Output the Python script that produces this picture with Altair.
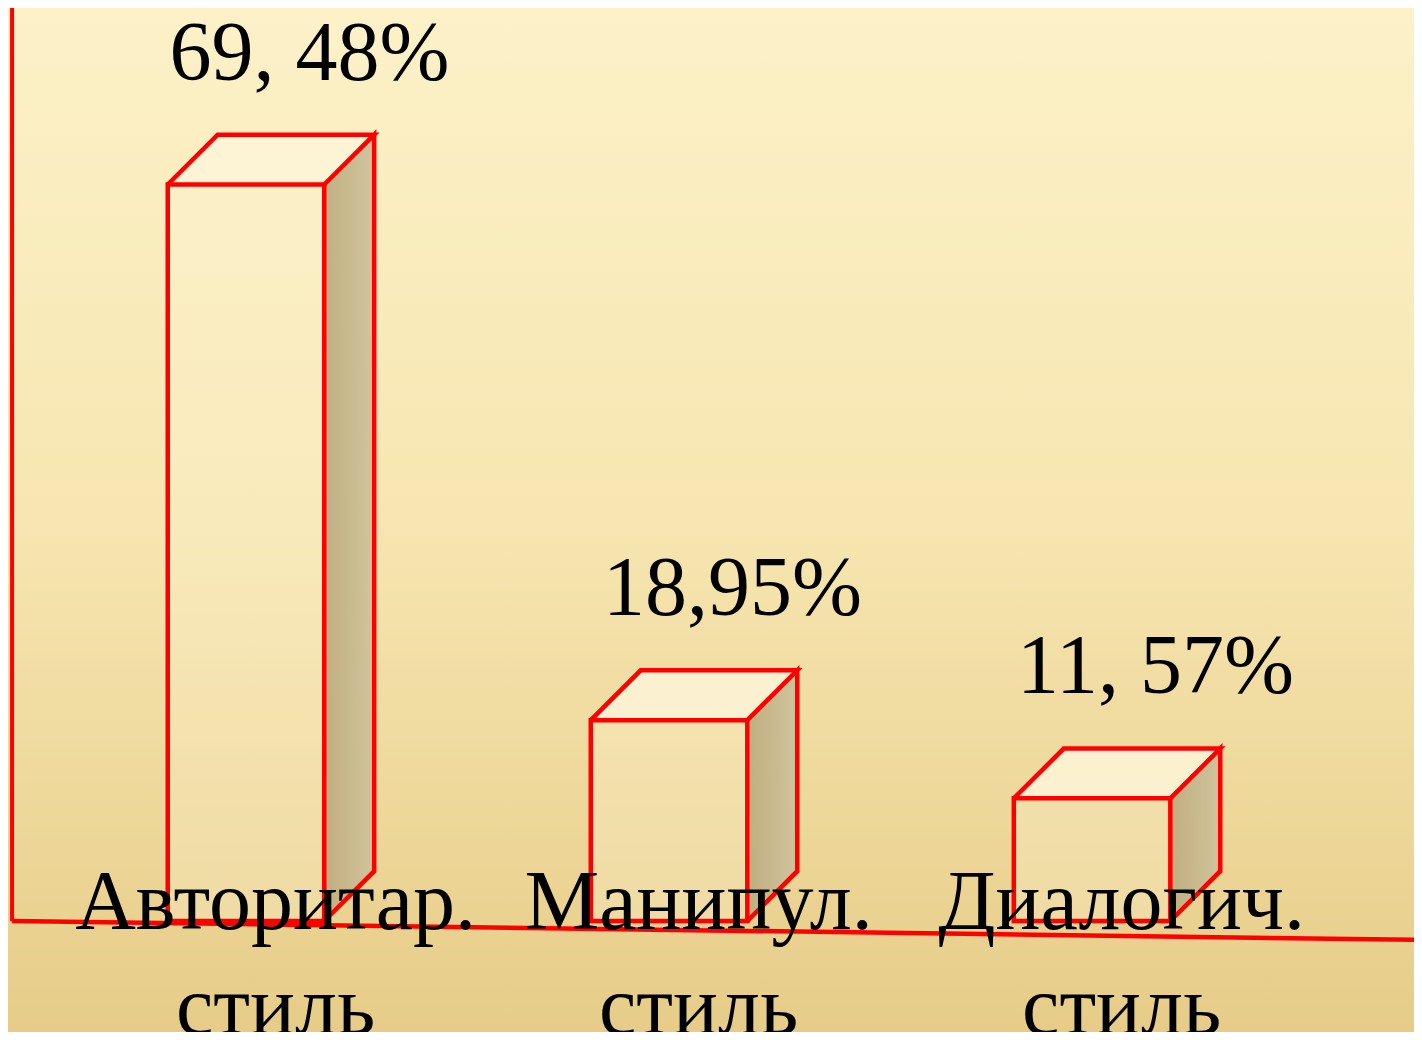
import altair as alt
import pandas as pd

# ---- data ----
categories = ["Авторитар.\nстиль", "Манипул.\nстиль", "Диалогич.\nстиль"]
values = [69.48, 18.95, 11.57]
value_labels = ["69, 48%", "18,95%", "11, 57%"]

# ---- layout / style constants ----
W, H = 1406, 1024
X_DOMAIN = [-0.0626, 3.261]
Y_DOMAIN = [-10.47, 86.13]
HALF = 0.185      # half bar width (x units)
DX = 0.118        # depth offset in x units
DY = 4.7          # depth offset in y units
AXIS_X = -0.053
RED = "#FF0000"
FONT = "Liberation Serif"

xs = alt.Scale(domain=X_DOMAIN, nice=False, zero=False)
ys = alt.Scale(domain=Y_DOMAIN, nice=False, zero=False)

front_rows, top_rows, side_rows, out_rows, lab_rows = [], [], [], [], []
for i, (cat, v, lab) in enumerate(zip(categories, values, value_labels)):
    c = i + 0.5
    x0, x1 = c - HALF, c + HALF
    front_rows.append({"bar": i, "x0": x0, "x1": x1, "y0": 0.0, "v": v})
    top_rows += [
        {"bar": i, "x": x0, "y": v, "y2": v},
        {"bar": i, "x": x0 + DX, "y": v, "y2": v + DY},
        {"bar": i, "x": x1, "y": v, "y2": v + DY},
        {"bar": i, "x": x1 + DX, "y": v + DY, "y2": v + DY},
    ]
    side_rows += [
        {"bar": i, "x": x1, "y": 0.0, "y2": v},
        {"bar": i, "x": x1 + DX, "y": DY, "y2": v + DY},
    ]
    pts = [(x0, v), (x0 + DX, v + DY), (x1 + DX, v + DY), (x1, v),
           (x1 + DX, v + DY), (x1 + DX, DY), (x1, 0.0)]
    for k, (px, py) in enumerate(pts):
        out_rows.append({"bar": i, "k": k, "x": px, "y": py})
    lab_rows.append({"bar": i, "cat": cat, "lab": lab,
                     "lx": c + 0.15, "ly": v + DY + 5.2,
                     "cx": c + 0.07, "cy": 0.0})

front = pd.DataFrame(front_rows)
top = pd.DataFrame(top_rows)
side = pd.DataFrame(side_rows)
outline = pd.DataFrame(out_rows)
labels = pd.DataFrame(lab_rows)

bg = alt.Chart(pd.DataFrame({"a": [0]})).mark_rect(
    color=alt.LinearGradient(
        gradient="linear", x1=0, x2=0, y1=0, y2=1,
        stops=[alt.GradientStop(offset=0, color="#FCF1C8"),
               alt.GradientStop(offset=0.5, color="#F7E6B1"),
               alt.GradientStop(offset=1, color="#E6CC88")])
).encode(x=alt.value(0), x2=alt.value(W), y=alt.value(0), y2=alt.value(H))

side_l = alt.Chart(side).mark_area(
    color=alt.LinearGradient(
        gradient="linear", x1=0, x2=1, y1=0, y2=0,
        stops=[alt.GradientStop(offset=0, color="#BDAC7E"),
               alt.GradientStop(offset=1, color="#CFC29C")]),
    opacity=0.95
).encode(
    x=alt.X("x:Q", scale=xs, axis=None),
    y=alt.Y("y:Q", scale=ys, axis=None),
    y2="y2:Q", detail="bar:N")

top_l = alt.Chart(top).mark_area(color="#FDF4D8", opacity=0.85).encode(
    x=alt.X("x:Q", scale=xs, axis=None),
    y=alt.Y("y:Q", scale=ys, axis=None),
    y2="y2:Q", detail="bar:N")

front_l = alt.Chart(front).mark_rect(
    fill="#FFF8DC", fillOpacity=0.25, stroke=RED, strokeWidth=4.5
).encode(
    x=alt.X("x0:Q", scale=xs, axis=None), x2="x1:Q",
    y=alt.Y("y0:Q", scale=ys, axis=None), y2="v:Q")

out_l = alt.Chart(outline).mark_line(
    color=RED, strokeWidth=4.5, strokeJoin="miter"
).encode(
    x=alt.X("x:Q", scale=xs, axis=None),
    y=alt.Y("y:Q", scale=ys, axis=None),
    order="k:Q", detail="bar:N")

floor = alt.Chart(pd.DataFrame({"x": [AXIS_X], "y": [0.0], "x2": [3.3], "y2": [-1.8]})).mark_rule(
    color=RED, strokeWidth=4.5, clip=True
).encode(x=alt.X("x:Q", scale=xs, axis=None), y=alt.Y("y:Q", scale=ys, axis=None),
         x2="x2:Q", y2="y2:Q")

vaxis = alt.Chart(pd.DataFrame({"x": [AXIS_X], "y": [0.0], "y2": [Y_DOMAIN[1]]})).mark_rule(
    color=RED, strokeWidth=4, clip=True
).encode(x=alt.X("x:Q", scale=xs, axis=None), y=alt.Y("y:Q", scale=ys, axis=None), y2="y2:Q")

val_txt = alt.Chart(labels).mark_text(
    font=FONT, fontSize=84, color="black", align="center", baseline="alphabetic"
).encode(x=alt.X("lx:Q", scale=xs, axis=None), y=alt.Y("ly:Q", scale=ys, axis=None),
         text="lab:N")

cat_txt = alt.Chart(labels).mark_text(
    font=FONT, fontSize=84, color="black", align="center", baseline="alphabetic",
    lineBreak="\n", lineHeight=105, dy=8
).encode(x=alt.X("cx:Q", scale=xs, axis=None), y=alt.Y("cy:Q", scale=ys, axis=None),
         text="cat:N")

chart = alt.layer(bg, side_l, top_l, front_l, out_l, floor, vaxis, val_txt, cat_txt).properties(
    width=W, height=H, padding=0,
    autosize=alt.AutoSizeParams(type="none"),
    background="#F5E4AE"
).configure_view(stroke=None)

chart.save("out.html", embed_options={"renderer": "svg", "actions": False})
